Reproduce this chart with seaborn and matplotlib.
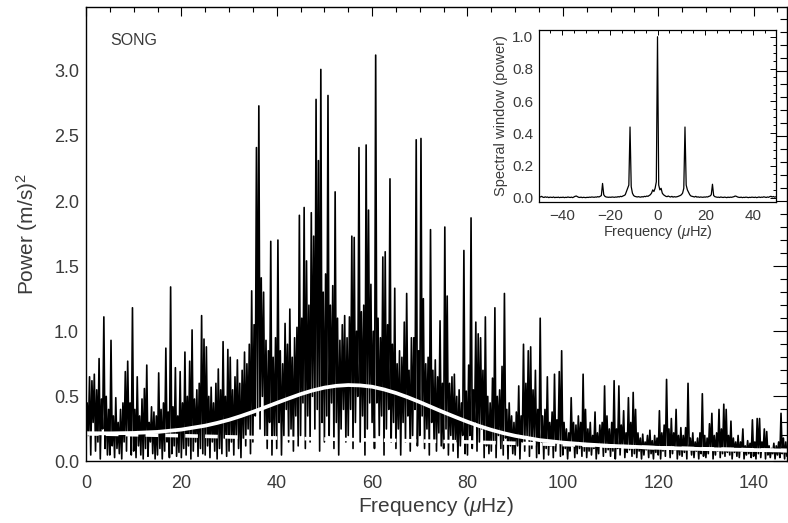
import numpy as np
import pandas as pd
import matplotlib
matplotlib.use("Agg")
import matplotlib.pyplot as plt
from matplotlib.ticker import MultipleLocator, FormatStrFormatter
import seaborn as sns

# ---------------- data ----------------
# power spectrum sampled every 0.25 uHz: values at 0, 0.5, 1.0 ... (troughs)
power_trough = [
    0.10, 0.20, 0.05, 0.30, 0.08, 0.15, 0.02, 0.25, 0.10, 0.05,
    0.05, 0.12, 0.03, 0.10, 0.06, 0.02, 0.15, 0.08, 0.20, 0.05,
    0.08, 0.03, 0.12, 0.05, 0.02, 0.10, 0.04, 0.15, 0.06, 0.02,
    0.05, 0.10, 0.02, 0.08, 0.15, 0.03, 0.06, 0.12, 0.04, 0.07,
    0.03, 0.10, 0.05, 0.12, 0.02, 0.08, 0.15, 0.04, 0.10, 0.06,
    0.05, 0.12, 0.03, 0.15, 0.08, 0.02, 0.10, 0.06, 0.18, 0.04,
    0.08, 0.15, 0.05, 0.20, 0.10, 0.03, 0.18, 0.12, 0.25, 0.06,
    0.15, 0.35, 0.40, 0.25, 0.50, 0.20, 0.10, 0.30, 0.05, 0.20,
    0.10, 0.30, 0.05, 0.20, 0.40, 0.15, 0.25, 0.08, 0.35, 0.12,
    0.20, 0.45, 0.10, 0.35, 0.15, 0.50, 0.25, 0.40, 0.08, 0.30,
    0.15, 0.35, 0.20, 0.45, 0.10, 0.30, 0.05, 0.25, 0.40, 0.15,
    0.20, 0.40, 0.10, 0.30, 0.50, 0.15, 0.35, 0.05, 0.25, 0.45,
    0.30, 0.10, 0.45, 0.20, 0.35, 0.05, 0.25, 0.40, 0.15, 0.30,
    0.10, 0.25, 0.05, 0.30, 0.15, 0.35, 0.08, 0.20, 0.40, 0.12,
    0.20, 0.35, 0.10, 0.25, 0.05, 0.30, 0.15, 0.08, 0.22, 0.12,
    0.10, 0.25, 0.05, 0.20, 0.08, 0.15, 0.03, 0.12, 0.20, 0.06,
    0.05, 0.20, 0.10, 0.30, 0.08, 0.15, 0.25, 0.03, 0.12, 0.06,
    0.08, 0.15, 0.03, 0.20, 0.10, 0.05, 0.18, 0.02, 0.12, 0.06,
    0.05, 0.12, 0.02, 0.15, 0.08, 0.20, 0.04, 0.10, 0.18, 0.03,
    0.06, 0.15, 0.02, 0.10, 0.05, 0.12, 0.03, 0.08, 0.14, 0.04,
    0.05, 0.10, 0.02, 0.08, 0.12, 0.03, 0.06, 0.10, 0.04, 0.08,
    0.03, 0.08, 0.05, 0.10, 0.02, 0.06, 0.12, 0.04, 0.07, 0.09,
    0.04, 0.08, 0.02, 0.10, 0.05, 0.12, 0.03, 0.07, 0.09, 0.04,
    0.06, 0.03, 0.08, 0.02, 0.05, 0.09, 0.03, 0.06, 0.02, 0.07,
    0.05, 0.02, 0.08, 0.04, 0.10, 0.03, 0.06, 0.09, 0.02, 0.05,
    0.04, 0.07, 0.02, 0.09, 0.05, 0.03, 0.08, 0.02, 0.06, 0.04,
    0.03, 0.06, 0.09, 0.02, 0.05, 0.08, 0.03, 0.06, 0.04, 0.07,
    0.05, 0.02, 0.07, 0.04, 0.03, 0.08, 0.02, 0.05, 0.06, 0.03,
    0.04, 0.02, 0.06, 0.03, 0.08, 0.02, 0.05, 0.03, 0.06, 0.02,
    0.05, 0.03, 0.06, 0.02, 0.04,
]
# values at 0.25, 0.75, 1.25 ... (peaks)
power_peak = [
    0.45, 0.65, 0.62, 0.67, 0.55, 0.79, 0.48, 1.11, 0.50, 0.40,
    0.93, 0.35, 0.49, 0.30, 0.40, 0.45, 0.69, 0.77, 0.45, 1.18,
    0.40, 0.65, 0.35, 0.48, 0.56, 0.74, 0.30, 0.42, 0.38, 0.35,
    0.68, 0.40, 0.45, 0.87, 0.38, 1.34, 0.42, 0.72, 0.35, 0.69,
    0.45, 0.84, 0.50, 0.77, 1.01, 0.48, 0.55, 0.60, 1.12, 0.94,
    0.88, 0.50, 0.57, 0.45, 0.60, 0.71, 0.55, 0.92, 0.50, 0.86,
    0.80, 0.55, 0.65, 0.78, 0.60, 0.70, 0.84, 0.75, 0.90, 1.31,
    1.05, 2.41, 2.73, 1.41, 1.30, 0.93, 0.85, 1.69, 0.80, 0.95,
    1.70, 0.85, 0.75, 1.06, 0.90, 1.17, 0.80, 0.95, 1.03, 1.89,
    1.10, 1.95, 1.54, 1.20, 1.91, 1.73, 2.78, 2.31, 3.01, 1.30,
    1.44, 2.81, 1.20, 1.35, 2.07, 1.10, 0.93, 1.05, 1.12, 0.95,
    1.11, 1.73, 1.72, 1.00, 2.41, 1.15, 1.20, 2.43, 1.93, 1.36,
    1.00, 3.12, 1.10, 0.95, 1.57, 1.61, 1.05, 2.17, 0.90, 1.33,
    0.75, 0.85, 0.80, 1.07, 1.29, 0.70, 0.95, 0.95, 2.47, 0.85,
    2.48, 1.25, 0.75, 0.80, 1.78, 0.70, 0.78, 0.65, 1.08, 0.60,
    1.80, 1.27, 0.60, 0.65, 0.67, 0.50, 0.55, 0.45, 1.62, 0.54,
    0.74, 1.87, 0.55, 1.07, 0.98, 0.95, 0.70, 1.11, 0.50, 0.45,
    0.64, 1.18, 0.50, 0.55, 0.73, 1.29, 0.40, 0.45, 0.35, 0.30,
    0.38, 0.58, 0.35, 0.90, 0.60, 0.85, 0.88, 0.55, 0.70, 0.40,
    1.10, 0.35, 0.40, 0.65, 0.30, 0.38, 0.67, 0.32, 0.69, 0.85,
    0.30, 0.25, 0.22, 0.49, 0.30, 0.28, 0.35, 0.30, 0.67, 0.40,
    0.25, 0.30, 0.20, 0.38, 0.22, 0.28, 0.30, 0.58, 0.35, 0.25,
    0.30, 0.62, 0.25, 0.58, 0.28, 0.39, 0.22, 0.49, 0.30, 0.53,
    0.40, 0.22, 0.18, 0.21, 0.15, 0.20, 0.24, 0.16, 0.20, 0.18,
    0.39, 0.22, 0.28, 0.63, 0.25, 0.33, 0.22, 0.40, 0.20, 0.26,
    0.20, 0.26, 0.60, 0.18, 0.22, 0.15, 0.18, 0.22, 0.52, 0.20,
    0.18, 0.29, 0.37, 0.20, 0.22, 0.40, 0.25, 0.44, 0.40, 0.20,
    0.31, 0.18, 0.15, 0.20, 0.15, 0.25, 0.12, 0.16, 0.14, 0.32,
    0.15, 0.33, 0.33, 0.15, 0.25, 0.23, 0.12, 0.10, 0.14, 0.12,
    0.15, 0.37, 0.18, 0.15,
]
freq_step = 0.25  # uHz

# smooth fit (background + Gaussian excess), sampled
fit_freq = [0, 5, 10, 15, 20, 25, 27.5, 30, 32.5, 35, 37.5, 40, 42.5, 45, 47.5,
            50, 52.5, 55, 57.5, 60, 62.5, 65, 67.5, 70, 72.5, 75, 77.5, 80,
            82.5, 85, 87.5, 90, 95, 100, 105, 110, 120, 130, 140, 147]
fit_total = [0.217, 0.216, 0.219, 0.227, 0.245, 0.275, 0.296, 0.320, 0.349,
             0.381, 0.415, 0.450, 0.484, 0.517, 0.545, 0.567, 0.581, 0.587,
             0.584, 0.574, 0.553, 0.526, 0.493, 0.456, 0.417, 0.378, 0.341,
             0.305, 0.272, 0.243, 0.218, 0.197, 0.165, 0.145, 0.131, 0.120,
             0.105, 0.095, 0.088, 0.084]
bg_freq = [0, 20, 40, 60, 80, 100, 120, 147]
bg_power = [0.213, 0.198, 0.180, 0.165, 0.150, 0.130, 0.105, 0.084]

# spectral window, every 0.5 uHz from -50 to +50
window_power = [
    0.004, 0.008, 0.006, 0.010, 0.005, 0.003, 0.007, 0.004, 0.006, 0.002,
    0.005, 0.004, 0.003, 0.006, 0.002, 0.004, 0.003, 0.005, 0.002, 0.004,
    0.003, 0.005, 0.002, 0.004, 0.003, 0.006, 0.004, 0.003, 0.005, 0.002,
    0.006, 0.010, 0.012, 0.008, 0.004, 0.003, 0.005, 0.002, 0.004, 0.003,
    0.002, 0.004, 0.003, 0.005, 0.004, 0.006, 0.005, 0.004, 0.006, 0.005,
    0.008, 0.006, 0.010, 0.015, 0.090, 0.020, 0.010, 0.006, 0.005, 0.004,
    0.005, 0.004, 0.006, 0.005, 0.004, 0.006, 0.005, 0.008, 0.006, 0.010,
    0.008, 0.012, 0.015, 0.020, 0.040, 0.060, 0.080, 0.440, 0.070, 0.030,
    0.015, 0.010, 0.008, 0.006, 0.008, 0.006, 0.005, 0.008, 0.006, 0.010,
    0.008, 0.012, 0.010, 0.015, 0.020, 0.030, 0.050, 0.040, 0.060, 0.100,
    1.000, 0.080, 0.050, 0.060, 0.030, 0.020, 0.015, 0.010, 0.008, 0.012,
    0.008, 0.006, 0.010, 0.005, 0.008, 0.006, 0.007, 0.009, 0.012, 0.015,
    0.020, 0.030, 0.060, 0.440, 0.080, 0.050, 0.035, 0.020, 0.012, 0.010,
    0.008, 0.006, 0.010, 0.005, 0.007, 0.004, 0.006, 0.005, 0.004, 0.006,
    0.005, 0.007, 0.006, 0.010, 0.012, 0.020, 0.085, 0.015, 0.008, 0.006,
    0.004, 0.005, 0.003, 0.006, 0.004, 0.003, 0.005, 0.004, 0.002, 0.005,
    0.003, 0.005, 0.004, 0.006, 0.008, 0.012, 0.010, 0.006, 0.004, 0.003,
    0.005, 0.002, 0.004, 0.003, 0.005, 0.004, 0.002, 0.004, 0.003, 0.005,
    0.004, 0.003, 0.005, 0.002, 0.004, 0.006, 0.003, 0.005, 0.004, 0.007,
    0.005, 0.003, 0.006, 0.004, 0.008, 0.010, 0.006, 0.009, 0.005, 0.007,
    0.004,
]
window_start, window_step = -50.0, 0.5

x_ticks = [0, 20, 40, 60, 80, 100, 120, 140]
y_ticks = [0.0, 0.5, 1.0, 1.5, 2.0, 2.5, 3.0]
inset_x_ticks = [-40, -20, 0, 20, 40]
inset_y_ticks = [0.0, 0.2, 0.4, 0.6, 0.8, 1.0]

# ---------------- build tables ----------------
power = np.empty(len(power_trough) + len(power_peak))
power[0::2] = power_trough
power[1::2] = power_peak
spec = pd.DataFrame({"freq": np.arange(len(power)) * freq_step, "power": power})
fit = pd.DataFrame({"freq": fit_freq, "power": fit_total})
bg = pd.DataFrame({"freq": bg_freq, "power": bg_power})
win = pd.DataFrame({"freq": window_start + np.arange(len(window_power)) * window_step,
                    "power": window_power})

# ---------------- style ----------------
sns.set_theme(style="white")
plt.rcParams["font.family"] = ["Liberation Sans", "DejaVu Sans"]
plt.rcParams["mathtext.fontset"] = "custom"
plt.rcParams["mathtext.rm"] = "Liberation Sans"
plt.rcParams["mathtext.it"] = "Liberation Sans:italic"
plt.rcParams["axes.unicode_minus"] = True
txt = "#3a3a3a"

fig = plt.figure(figsize=(7.88, 5.23), dpi=100)
ax = fig.add_axes([0.1091, 0.1176, 0.8896, 0.8684])

sns.lineplot(data=spec, x="freq", y="power", ax=ax, color="black",
             linewidth=1.2, estimator=None, sort=False, errorbar=None,
             zorder=2)
sns.lineplot(data=bg, x="freq", y="power", ax=ax, color="white",
             linewidth=2.6, linestyle=(0, (3.5, 2.0)), estimator=None,
             sort=False, errorbar=None, zorder=4)
sns.lineplot(data=fit, x="freq", y="power", ax=ax, color="white",
             linewidth=2.7, estimator=None, sort=False, errorbar=None,
             zorder=5)

ax.set_xlim(0, 147)
ax.set_ylim(0, 3.487)
ax.set_xticks(x_ticks)
ax.set_yticks(y_ticks)
ax.xaxis.set_minor_locator(MultipleLocator(5))
ax.yaxis.set_minor_locator(MultipleLocator(0.1))
ax.yaxis.set_major_formatter(FormatStrFormatter("%.1f"))
ax.tick_params(which="both", direction="in", top=True, right=True,
               color="black", width=0.8, labelcolor=txt, labelsize=13)
ax.tick_params(axis="x", which="major", length=6.5, pad=10)
ax.tick_params(axis="x", which="minor", length=3.3)
ax.tick_params(axis="y", which="major", length=10, pad=5)
ax.tick_params(axis="y", which="minor", length=5)
for s in ax.spines.values():
    s.set_color("black")
    s.set_linewidth(1.0)
    s.set_zorder(6)
ax.set_xlabel(r"Frequency ($\mu$Hz)", fontsize=15, color=txt, labelpad=2)
ax.set_ylabel(r"Power (m/s)$^2$", fontsize=15, color=txt, labelpad=10)
ax.text(5.0, 3.23, "SONG", fontsize=11.5, color=txt, va="center", ha="left")

# ---------------- inset ----------------
axi = fig.add_axes([0.6840, 0.6138, 0.3008, 0.3289])
sns.lineplot(data=win, x="freq", y="power", ax=axi, color="black",
             linewidth=0.9, estimator=None, sort=False, errorbar=None)
axi.set_xlim(-49.6, 49.6)
axi.set_ylim(-0.025, 1.042)
axi.set_xticks(inset_x_ticks)
axi.set_yticks(inset_y_ticks)
axi.xaxis.set_minor_locator(MultipleLocator(5))
axi.yaxis.set_minor_locator(MultipleLocator(0.05))
axi.yaxis.set_major_formatter(FormatStrFormatter("%.1f"))
axi.tick_params(which="both", direction="in", top=True, right=True,
                color="black", width=0.7, labelcolor=txt, labelsize=11)
axi.tick_params(axis="x", which="major", length=3.5, pad=5)
axi.tick_params(axis="x", which="minor", length=1.8)
axi.tick_params(axis="y", which="major", length=4.5, pad=4)
axi.tick_params(axis="y", which="minor", length=2.2)
for s in axi.spines.values():
    s.set_color("black")
    s.set_linewidth(0.9)
axi.set_xlabel(r"Frequency ($\mu$Hz)", fontsize=10.5, color=txt, labelpad=0)
axi.set_ylabel("Spectral window (power)", fontsize=10.5, color=txt, labelpad=3)

fig.savefig("out.png", dpi=100)
